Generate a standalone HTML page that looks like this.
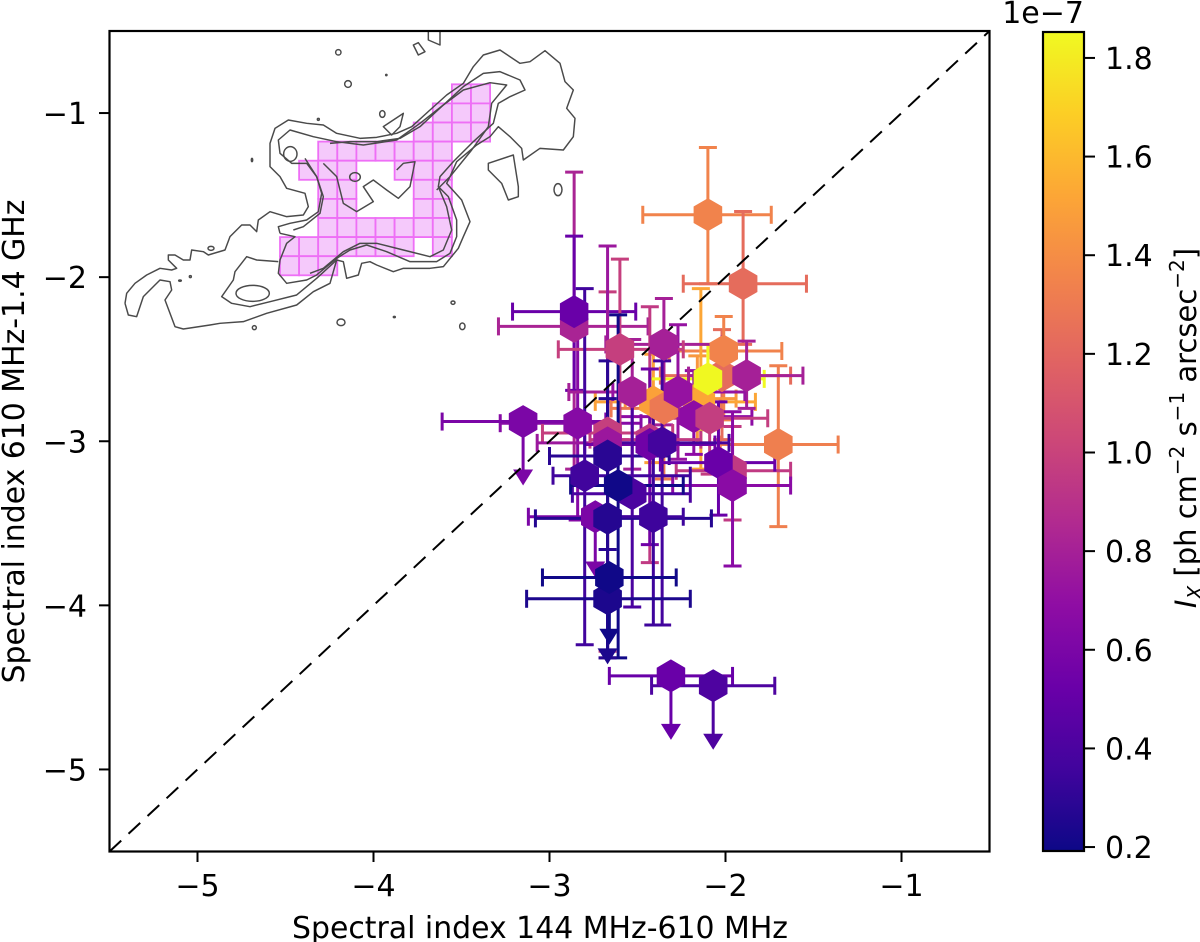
<!DOCTYPE html>
<html>
<head>
<meta charset="utf-8">
<style>
html,body{margin:0;padding:0;background:#fff;}
svg{display:block;}
text{font-family:"DejaVu Sans",sans-serif;fill:#000;}
</style>
</head>
<body>
<svg id="chart" xmlns="http://www.w3.org/2000/svg" width="1200" height="942" viewBox="0 0 1200 942">
  <defs>
    <clipPath id="plot-clip"><rect x="109.5" y="31" width="880" height="820.5"/></clipPath>
    <linearGradient id="plasma-gradient" x1="0" y1="1" x2="0" y2="0">
      <stop offset="0" stop-color="#0d0887"/><stop offset="0.1" stop-color="#41049d"/>
      <stop offset="0.2" stop-color="#6a00a8"/><stop offset="0.3" stop-color="#8f0da4"/>
      <stop offset="0.4" stop-color="#b12a90"/><stop offset="0.5" stop-color="#cc4778"/>
      <stop offset="0.6" stop-color="#e16462"/><stop offset="0.7" stop-color="#f2844b"/>
      <stop offset="0.8" stop-color="#fca636"/><stop offset="0.9" stop-color="#fcce25"/>
      <stop offset="1" stop-color="#f0f921"/>
    </linearGradient>
  </defs>
  <rect x="109.5" y="31" width="880" height="820.5" fill="#fff"/>
  <g id="grid-layer" clip-path="url(#plot-clip)"></g>
  <g clip-path="url(#plot-clip)">
  <g transform="translate(110 30) scale(0.33333)" fill="none" stroke="#4a4a4a" stroke-width="4.4" stroke-linejoin="round">
    <polyline points="45,820 50,790 75,760 110,735 150,715 185,720 200,715 175,690 175,675 195,675 220,690 240,690 245,660 280,665 295,675 345,660 360,620 395,585 420,585 440,605 445,570 480,545 530,560 580,555 595,530 585,490 530,475 510,440 480,410 480,340 495,295 535,270 590,280 640,285 680,310 750,325 800,322 860,310 905,290 960,240 1010,195 1060,160 1090,110 1120,75 1170,60 1230,100 1260,95 1305,62 1350,100 1365,155 1390,180 1370,235 1395,265 1390,320 1360,360 1290,355 1240,390 1235,355 1200,320 1165,290 1140,320 1100,345 1040,395 1020,440 1010,460 1055,510 1080,575 1060,620 1045,655 1000,710 960,715 880,715 850,725 800,705 780,695 755,700 745,735 710,745 700,695 680,690 660,760 610,785 560,825 470,850 400,875 330,880 300,885 220,897 195,890 165,810 185,780 180,755 150,750 130,770 100,800 80,860 55,855 45,820"/>
    <polyline points="510,610 505,590 540,580 590,570 625,545 635,490 620,440 590,400 545,400 510,370 505,330 540,300 610,320 680,335 760,345 860,330 930,280 1000,225 1060,170 1120,130 1170,125 1230,150 1245,180 1200,200 1165,220 1150,280 1090,335 1030,395 990,440 985,470 1015,500 1040,570 1040,620 1020,670 980,695 900,695 830,665 770,645 720,660 680,685 620,735 590,750 530,760 505,730 510,690 530,640 555,620 510,610"/>
    <polyline points="505,695 440,690 410,680 375,725 370,750 335,800 365,820 420,830 480,815 560,795 620,745 680,690"/>
    <polyline points="980,480 1020,440 1085,360 1135,290 1145,220 1190,165 1140,158 1060,180 1000,225 930,290 870,325 800,335 720,335 660,340"/>
    <polyline points="985,470 1010,530 1025,600 1000,660 960,680 880,660 800,640 750,640 700,665 640,715 600,730"/>
    <polyline points="585,385 620,440 640,500 630,550 580,590 550,600"/>
    <polyline points="640,400 680,440 700,520 740,545 790,515 760,470 790,450 830,480 865,505 900,470 915,395 880,400 860,420"/>
    <polygon points="1135,400 1210,375 1225,470 1225,500 1195,510 1175,460 1135,420"/>
    <polygon points="820,290 880,250 870,290 845,315"/>
    <polygon points="910,45 925,38 945,65 925,75"/>
    <polyline points="955,0 955,30 990,45 990,0"/>
    <ellipse cx="541" cy="372" rx="20" ry="22"/>
    <ellipse cx="735" cy="441" rx="16" ry="13"/>
    <ellipse cx="428" cy="790" rx="50" ry="24"/>
    <ellipse cx="1344" cy="479" rx="12" ry="18"/>
    <ellipse cx="685" cy="67" rx="8" ry="8"/>
    <ellipse cx="714" cy="162" rx="10" ry="10"/>
    <ellipse cx="817" cy="252" rx="8" ry="10"/>
    <ellipse cx="693" cy="877" rx="12" ry="10"/>
    <ellipse cx="1057" cy="889" rx="8" ry="10"/>
    <ellipse cx="303" cy="655" rx="9" ry="6"/>
    <ellipse cx="1029" cy="818" rx="6" ry="5"/>
    <ellipse cx="433" cy="893" rx="6" ry="6"/>
    <ellipse cx="625" cy="268" rx="3" ry="3"/>
    <ellipse cx="426" cy="390" rx="2" ry="5"/>
    <ellipse cx="241" cy="740" rx="3" ry="3"/>
    <ellipse cx="210" cy="752" rx="4" ry="2"/>
    <ellipse cx="829" cy="135" rx="2" ry="2"/>
    <ellipse cx="853" cy="861" rx="3" ry="2"/>
  </g>
  </g>
  <g id="error-layer" clip-path="url(#plot-clip)"></g>
  <line id="unity-line" stroke="#000" stroke-width="2" stroke-dasharray="16 10" clip-path="url(#plot-clip)"/>
  <g id="marker-layer" clip-path="url(#plot-clip)"></g>
  <rect x="109.5" y="31" width="880" height="820.5" fill="none" stroke="#000" stroke-width="2.2"/>
  <g id="axis-layer"></g>
  <text x="540" y="938" font-size="29.9" text-anchor="middle">Spectral index 144 MHz-610 MHz</text>
  <text transform="translate(24 441.5) rotate(-90)" font-size="29.9" text-anchor="middle">Spectral index 610 MHz-1.4 GHz</text>
  <rect x="1043" y="32" width="41" height="819" fill="url(#plasma-gradient)" stroke="#000" stroke-width="2.2"/>
  <g id="colorbar-layer"></g>
  <text x="1084" y="23" font-size="30" text-anchor="end">1e&#8722;7</text>
  <text transform="translate(1196 428) rotate(-90)" font-size="29" text-anchor="middle"><tspan font-style="italic">I</tspan><tspan font-style="italic" font-size="20" dy="6">X</tspan><tspan dy="-6"> [ph cm</tspan><tspan font-size="20" dy="-12">&#8722;2</tspan><tspan dy="12"> s</tspan><tspan font-size="20" dy="-12">&#8722;1</tspan><tspan dy="12"> arcsec</tspan><tspan font-size="20" dy="-12">&#8722;2</tspan><tspan dy="12">]</tspan></text>
</svg>
<script>
// Data (back-to-front drawing order)
const regionIds = ['b','a','q','p','s3','s1','s2','m','k','i2','g','h','i','j','o','n','l','e','f','d','c','r','s','t','x','x2','y','aa','z','ab','ac','u','w','v','ad','ae','ag','af','ah','ai'];
const xCenter = [-2.86,-2.86,-2.84,-3.15,-1.70,-2.10,-1.90,-2.02,-2.01,-2.16,-2.41,-2.35,-2.14,-2.10,-2.18,-2.09,-1.88,-2.53,-2.27,-2.35,-2.60,-2.67,-2.67,-2.67,-2.43,-2.43,-2.36,-1.96,-2.04,-1.96,-2.74,-2.80,-2.53,-2.61,-2.67,-2.41,-2.67,-2.66,-2.31,-2.07];
const yCenter = [-2.30,-2.21,-2.89,-2.88,-3.02,-1.62,-2.04,-2.60,-2.45,-2.74,-2.76,-2.80,-2.76,-2.62,-2.85,-2.86,-2.60,-2.70,-2.70,-2.41,-2.44,-2.95,-3.01,-3.09,-2.99,-3.02,-3.01,-3.18,-3.13,-3.27,-3.46,-3.21,-3.32,-3.27,-3.47,-3.46,-3.96,-3.83,-4.43,-4.49];
const xLower = [-3.29,-3.21,-3.28,-3.61,-2.03,-2.47,-2.24,-2.37,-2.32,-2.57,-2.74,-2.65,-2.47,-2.43,-2.60,-2.43,-2.21,-2.89,-2.64,-2.68,-2.95,-3.04,-3.07,-3.00,-2.77,-2.80,-2.71,-2.28,-2.37,-2.30,-3.12,-2.98,-2.87,-2.88,-3.08,-2.80,-3.13,-3.04,-2.66,-2.42];
const xUpper = [-2.44,-2.51,-2.48,-2.68,-1.36,-1.74,-1.54,-1.63,-1.68,-1.94,-2.07,-2.03,-1.83,-1.78,-1.85,-1.76,-1.56,-2.17,-1.89,-2.02,-2.24,-2.30,-2.32,-2.32,-2.14,-2.06,-1.98,-1.63,-1.72,-1.63,-2.34,-2.20,-2.20,-2.24,-2.08,-2.24,-2.20,-2.28,-1.96,-1.72];
const yUpper = [-1.36,-1.75,-2.23,-2.88,-2.54,-1.21,-1.60,-2.32,-2.24,-2.48,-2.47,-2.38,-2.07,-2.41,-2.57,-2.56,-2.39,-2.38,-2.29,-2.13,-1.89,-2.09,-1.81,-2.51,-2.18,-2.56,-2.51,-2.91,-2.76,-2.82,-1.93,-2.07,-2.65,-2.23,-2.74,-2.77,-3.96,-3.83,-4.43,-4.49];
const yLower = [-3.17,-2.69,-3.48,-3.27,-3.52,-2.04,-2.41,-2.99,-2.87,-3.01,-3.13,-3.23,-3.17,-2.93,-3.08,-3.20,-2.80,-3.17,-3.11,-2.90,-2.99,-4.28,-4.32,-3.66,-3.74,-3.63,-4.12,-3.48,-3.45,-3.76,-3.83,-4.24,-4.01,-4.32,-4.32,-4.12,-4.36,-4.24,-4.82,-4.88];
const upperLimit = [0,0,0,1,0,0,0,0,0,0,0,0,0,0,0,0,0,0,0,0,0,0,0,0,0,0,0,0,0,0,1,0,0,0,0,0,1,1,1,1];
const intensity = [0.82,0.52,0.65,0.60,1.33,1.35,1.23,1.23,1.35,1.45,1.50,1.30,1.52,1.85,0.68,0.97,0.80,0.80,0.72,0.80,0.98,0.98,0.75,0.28,0.95,0.55,0.37,0.95,0.52,0.67,0.60,0.36,0.40,0.20,0.27,0.35,0.24,0.20,0.52,0.41];
const xTicks = [-5,-4,-3,-2,-1];
const yTicks = [-5,-4,-3,-2,-1];
const cbarTicks = [0.2,0.4,0.6,0.8,1.0,1.2,1.4,1.6,1.8];
const gridRows = [[9,10],[8,9,10],[7,8,9,10],[2,3,4,5,6,7,8],[1,2,3,6,7,8],[2,3,7,8],[2,3,7,8],[2,3,4,5,6,7,8],[0,1,2,3,4,5,6,8],[0,1,2]];

const NS = 'http://www.w3.org/2000/svg';
const sx = v => 109.5 + (v + 5.5) * 176;
const sy = v => 31 + (v - -0.5) * -164.1;
const scb = v => 851 - (v - 0.192) * 493.2;
const stops = ['#0d0887','#41049d','#6a00a8','#8f0da4','#b12a90','#cc4778','#e16462','#f2844b','#fca636','#fcce25','#f0f921'];
function plasma(v){
  const t = Math.max(0, Math.min(1, (v - 0.192) / (1.855 - 0.192))) * 10;
  const i = Math.min(9, Math.floor(t)), f = t - i;
  const p = h => [1,3,5].map(k => parseInt(h.substr(k,2),16));
  const a = p(stops[i]), b = p(stops[i+1]);
  return 'rgb(' + a.map((c,k) => Math.round(c + (b[k]-c)*f)).join(',') + ')';
}
function mk(tag, attrs, parent){
  const el = document.createElementNS(NS, tag);
  for (const k in attrs) el.setAttribute(k, attrs[k]);
  parent.appendChild(el);
  return el;
}
const gridLayer = document.getElementById('grid-layer');
const errorLayer = document.getElementById('error-layer');
const markerLayer = document.getElementById('marker-layer');
const axisLayer = document.getElementById('axis-layer');
const cbLayer = document.getElementById('colorbar-layer');

const CELL_X = 280, CELL_Y = 84.3, CELL = 19.1;
gridRows.forEach((cols, r) => cols.forEach(c => {
  const cell = mk('rect', {x: CELL_X + c*CELL, y: CELL_Y + r*CELL, width: CELL, height: CELL, fill: '#f5c9fb', stroke: '#ee6ff6', 'stroke-width': 1.8}, gridLayer);
  
  
}));

const unity = document.getElementById('unity-line');
unity.setAttribute('x1', sx(-5.5)); unity.setAttribute('y1', sy(-5.5));
unity.setAttribute('x2', sx(-0.5)); unity.setAttribute('y2', sy(-0.5));

const CAP = 9, HEX = 16.5;
xCenter.forEach((xv, i) => {
  const col = plasma(intensity[i]);
  const cx = sx(xv), cy = sy(yCenter[i]);
  const g = mk('g', {stroke: col, 'stroke-width': 3, fill: col}, errorLayer);
  
  
  const xa = sx(xLower[i]), xb = sx(xUpper[i]);
  const ya = sy(yUpper[i]), yb = sy(yLower[i]);
  mk('line', {x1: xa, y1: cy, x2: xb, y2: cy}, g);
  mk('line', {x1: xa, y1: cy-CAP, x2: xa, y2: cy+CAP}, g);
  mk('line', {x1: xb, y1: cy-CAP, x2: xb, y2: cy+CAP}, g);
  if (upperLimit[i]) {
    mk('line', {x1: cx, y1: cy, x2: cx, y2: yb-8}, g);
    mk('polygon', {points: (cx-10)+','+(yb-16)+' '+(cx+10)+','+(yb-16)+' '+cx+','+yb, stroke: 'none'}, g);
  } else {
    mk('line', {x1: cx, y1: ya, x2: cx, y2: yb}, g);
    mk('line', {x1: cx-CAP, y1: ya, x2: cx+CAP, y2: ya}, g);
    mk('line', {x1: cx-CAP, y1: yb, x2: cx+CAP, y2: yb}, g);
  }
});
xCenter.forEach((xv, i) => {
  const cx = sx(xv), cy = sy(yCenter[i]);
  const pts = [];
  for (let k = 0; k < 6; k++) {
    const a = Math.PI/2 + k*Math.PI/3;
    pts.push((cx + HEX*Math.cos(a)).toFixed(1) + ',' + (cy + HEX*Math.sin(a)).toFixed(1));
  }
  const hex = mk('polygon', {points: pts.join(' '), fill: plasma(intensity[i])}, markerLayer);
  
  
});

const minus = v => String(v).replace('-', '\u2212');
xTicks.forEach(v => {
  const tick = mk('line', {x1: sx(v), y1: 851.5, x2: sx(v), y2: 862, stroke: '#000', 'stroke-width': 2}, axisLayer);
  
  
  const label = mk('text', {x: sx(v), y: 896, 'font-size': 30, 'text-anchor': 'middle'}, axisLayer);
  label.textContent = minus(v);
  
  
});
yTicks.forEach(v => {
  const tick = mk('line', {x1: 99, y1: sy(v), x2: 109.5, y2: sy(v), stroke: '#000', 'stroke-width': 2}, axisLayer);
  
  
  const label = mk('text', {x: 87, y: sy(v) + 11, 'font-size': 30, 'text-anchor': 'end'}, axisLayer);
  label.textContent = minus(v);
  
  
});
cbarTicks.forEach(v => {
  const tick = mk('line', {x1: 1084, y1: scb(v), x2: 1095, y2: scb(v), stroke: '#000', 'stroke-width': 2}, cbLayer);
  
  
  const label = mk('text', {x: 1105, y: scb(v) + 11, 'font-size': 30}, cbLayer);
  label.textContent = v.toFixed(1);
  
  
});
</script>
</body>
</html>
